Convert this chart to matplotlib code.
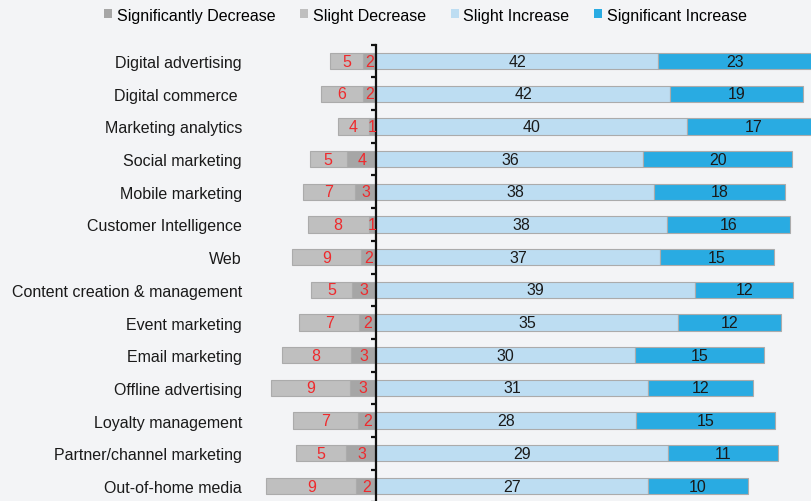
import numpy as np
import matplotlib.pyplot as plt
from matplotlib.patches import Patch

categories = ["Digital advertising", "Digital commerce ", "Marketing analytics",
              "Social marketing", "Mobile marketing", "Customer Intelligence", "Web",
              "Content creation & management", "Event marketing", "Email marketing",
              "Offline advertising", "Loyalty management", "Partner/channel marketing",
              "Out-of-home media"]
sig_dec = [2, 2, 1, 4, 3, 1, 2, 3, 2, 3, 3, 2, 3, 2]
slight_dec = [5, 6, 4, 5, 7, 8, 9, 5, 7, 8, 9, 7, 5, 9]
slight_inc = [42, 42, 40, 36, 38, 38, 37, 39, 35, 30, 31, 28, 29, 27]
sig_inc = [23, 19, 17, 20, 18, 16, 15, 12, 12, 15, 12, 15, 11, 10]

legend_labels = ["Significantly Decrease", "Slight Decrease", "Slight Increase", "Significant Increase"]
colors = ["#A6A6A6", "#BFBFBF", "#BDDDF2", "#29ABE2"]
bg = "#F3F4F6"
edge = "#ABABAB"

plt.rcParams['font.family'] = ['Liberation Sans', 'DejaVu Sans']

# Każdy wiersz przeskalowany do 100%
sd = np.array(sig_dec, float)
ld = np.array(slight_dec, float)
li = np.array(slight_inc, float)
si = np.array(sig_inc, float)
total = sd + ld + li + si
sd_p, ld_p, li_p, si_p = [a / total * 100 for a in (sd, ld, li, si)]

y = np.arange(len(categories))
h = 0.5

fig = plt.figure(figsize=(8.12, 5.02), dpi=100, facecolor=bg)
ax = fig.add_axes([0, -0.0027, 1, 0.9117], facecolor=bg)

kw = dict(height=h, edgecolor=edge, linewidth=0.8)
ax.barh(y, -sd_p, color=colors[0], **kw)
ax.barh(y, -ld_p, left=-sd_p, color=colors[1], **kw)
ax.barh(y, li_p, color=colors[2], **kw)
ax.barh(y, si_p, left=li_p, color=colors[3], **kw)

fs = 11.5
red = "#EE2A2D"
for i in range(len(categories)):
    ax.text(-sd_p[i] / 2, y[i], str(sig_dec[i]), color=red, ha='center', va='center', fontsize=fs)
    ax.text(-sd_p[i] - ld_p[i] / 2, y[i], str(slight_dec[i]), color=red, ha='center', va='center', fontsize=fs)
    ax.text(li_p[i] / 2, y[i], str(slight_inc[i]), color='#1a1a1a', ha='center', va='center', fontsize=fs)
    ax.text(li_p[i] + si_p[i] / 2, y[i], str(sig_inc[i]), color='#1a1a1a', ha='center', va='center', fontsize=fs)

ax.set_xlim(-78.1, 90.35)
ax.set_ylim(len(categories) - 0.5, -0.5)

for s in ['top', 'right', 'bottom']:
    ax.spines[s].set_visible(False)
ax.spines['left'].set_position(('data', 0))
ax.spines['left'].set_linewidth(1.6)
ax.spines['left'].set_color('#111111')
ax.set_xticks([])
ax.set_yticks(y)
ax.set_yticklabels(categories, fontsize=fs, color='#1a1a1a')
ax.set_yticks(np.arange(len(categories) + 1) - 0.5, minor=True)
ax.tick_params(axis='y', which='major', length=0, pad=96.8)
ax.tick_params(axis='y', which='minor', length=3.6, width=1.6, color='#111111', direction='out')

handles = [Patch(facecolor=c, edgecolor='none') for c in colors]
fig.legend(handles, legend_labels, loc='center', bbox_to_anchor=(0.524, 0.968), ncol=4,
           frameon=False, fontsize=fs, handlelength=0.5, handleheight=0.5,
           handletextpad=0.28, columnspacing=1.56, borderpad=0)

fig.savefig("out.png", dpi=100, facecolor=bg)
